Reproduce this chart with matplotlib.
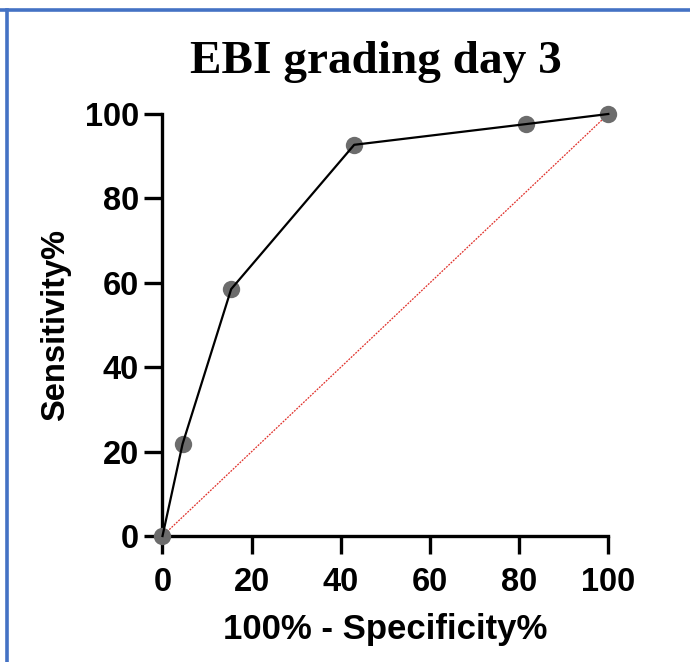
import matplotlib
matplotlib.use("Agg")
import matplotlib.pyplot as plt
from matplotlib.lines import Line2D

# ROC points
fpr = [0, 4.5, 15.4, 43.0, 81.5, 100]   # 100% - Specificity%
tpr = [0, 21.8, 58.5, 92.7, 97.6, 100]  # Sensitivity%
ticks = [0, 20, 40, 60, 80, 100]

BORDER = "#4472c4"
DOT = "#6c6c6c"

plt.rcParams.update({
    "font.family": "Liberation Sans",
    "font.weight": "bold",
})

fig = plt.figure(figsize=(6.9, 6.62), dpi=100)
ax = fig.add_axes([0.2355, 0.1903, 0.6461, 0.6375])

ax.plot([0, 100], [0, 100], ls=(0, (1.5, 1)), lw=0.9, color="#e0302a",
        zorder=2)
ax.plot(fpr, tpr, "o", ms=12.5, color=DOT, mec="none", clip_on=False,
        zorder=3)
ax.plot(fpr, tpr, "-", lw=1.6, color="black", clip_on=False, zorder=4)

ax.set_xlim(0, 100)
ax.set_ylim(0, 100)
ax.set_xticks(ticks)
ax.set_yticks(ticks)
for s in ("top", "right"):
    ax.spines[s].set_visible(False)
for s in ("left", "bottom"):
    ax.spines[s].set_linewidth(2.4)
ax.tick_params(length=13, width=2.4, labelsize=23.5, direction="out")
ax.tick_params(axis="y", pad=4)
ax.tick_params(axis="x", pad=9)
for lab in ax.get_xticklabels() + ax.get_yticklabels():
    lab.set_fontweight("bold")

ax.set_xlabel("100% - Specificity%", fontsize=25, fontweight="bold",
              labelpad=11)
ax.set_ylabel("Sensitivity%", fontsize=23.5, fontweight="bold",
              labelpad=10)

fig.text(0.545, 0.907, "EBI grading day 3", ha="center", va="center",
         family="Liberation Serif", fontsize=34, fontweight="bold")

# blue frame left over from the source page
fig.add_artist(Line2D([0, 1], [1 - 10 / 662] * 2, color=BORDER, lw=2.6,
                      transform=fig.transFigure))
fig.add_artist(Line2D([6.5 / 690] * 2, [0, 1 - 10 / 662], color=BORDER,
                      lw=2.6, transform=fig.transFigure))

fig.savefig("out.png", dpi=100)
